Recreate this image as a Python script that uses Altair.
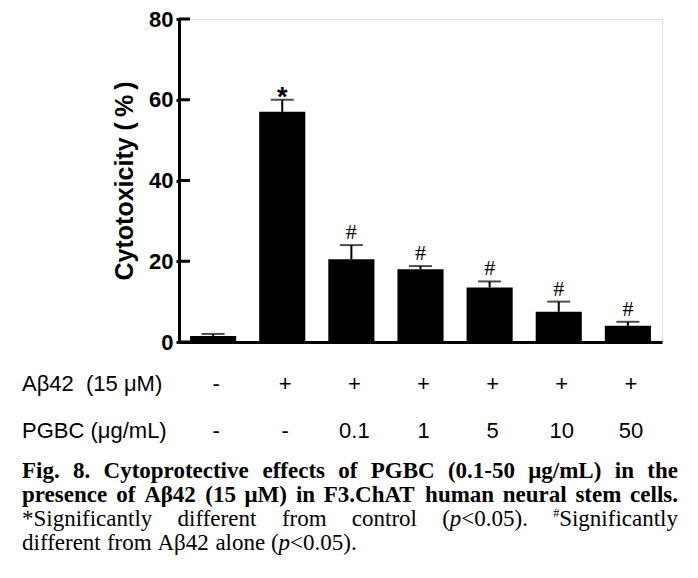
import altair as alt
import pandas as pd

# ---- data ----
abeta = ["-", "+", "+", "+", "+", "+", "+"]
pgbc = ["-", "-", "0.1", "1", "5", "10", "50"]
values = [1.5, 57.0, 20.5, 18.0, 13.5, 7.5, 4.0]
upper = [2.0, 60.0, 24.0, 18.8, 15.0, 10.0, 5.0]
sig = ["", "*", "#", "#", "#", "#", "#"]
y_ticks = [0, 20, 40, 60, 80]
row_titles = ["A\u03b242\u00a0\u00a0(15 \u03bcM)", "PGBC (\u03bcg/mL)"]

groups = [f"{a} {p}" for a, p in zip(abeta, pgbc)]
df = pd.DataFrame({"group": groups, "value": values, "upper": upper,
                   "sig": sig, "abeta": abeta, "pgbc": pgbc})

# ---- layout ----
W, H = 483, 323
PAD_L, PAD_T = 171, 11
SANS = "Liberation Sans, Arial, sans-serif"
SERIF = "Liberation Serif, Times New Roman, serif"

xscale = alt.Scale(domain=groups, paddingInner=0.333, paddingOuter=0.16)
yscale = alt.Scale(domain=[0, 80], nice=False)
yaxis = alt.Axis(values=y_ticks, title="Cytotoxicity (\u2009%\u2009)", grid=False,
                 domainWidth=3, domainColor="black", tickWidth=3, tickSize=3,
                 tickColor="black", labelPadding=3, labelFont=SANS,
                 labelFontSize=22, labelFontWeight="bold", labelColor="black",
                 titleFont=SANS, titleFontSize=25, titleFontWeight="bold",
                 titleColor="black", titlePadding=11)
xaxis = alt.Axis(labels=False, ticks=False, title=None, domainWidth=3,
                 domainColor="black", grid=False)

X = alt.X("group:N", scale=xscale, axis=xaxis, sort=None)

base = alt.Chart(df)
bars = base.mark_bar(color="black").encode(
    x=X, y=alt.Y("value:Q", scale=yscale, axis=yaxis))
err = base.mark_rule(color="black", strokeWidth=2).encode(
    x=X, y=alt.Y("value:Q", scale=yscale, axis=yaxis), y2="upper:Q")
caps = base.mark_tick(color="black", thickness=2, size=23).encode(
    x=X, y=alt.Y("upper:Q", scale=yscale, axis=yaxis))
star = base.transform_filter(alt.datum.sig == "*").mark_text(
    font=SANS, fontSize=27, fontWeight="bold", baseline="alphabetic", dy=6,
    color="black").encode(x=X, y=alt.Y("upper:Q", scale=yscale, axis=yaxis),
                          text="sig:N")
hashm = base.transform_filter(alt.datum.sig == "#").mark_text(
    font=SERIF, fontSize=22, baseline="alphabetic", dy=-6,
    color="black").encode(x=X, y=alt.Y("upper:Q", scale=yscale, axis=yaxis),
                          text="sig:N")

tick_df = pd.DataFrame({"t": y_ticks})
inticks = alt.Chart(tick_df).mark_rule(color="black", strokeWidth=3).encode(
    y=alt.Y("t:Q", scale=yscale, axis=yaxis), x=alt.value(0), x2=alt.value(11))

ROWFS = 22
row1 = base.mark_text(font=SANS, fontSize=ROWFS, dx=3, color="black").encode(
    x=X, y=alt.value(365), text="abeta:N")
row2 = base.mark_text(font=SANS, fontSize=ROWFS, dx=3, color="black").encode(
    x=X, y=alt.value(412), text="pgbc:N")

head_df = pd.DataFrame({"t": row_titles, "px": [-157, -157], "py": [365, 412]})
heads = alt.Chart(head_df).mark_text(font=SANS, fontSize=ROWFS, align="left",
                                     color="black").encode(
    x=alt.X("px:Q", scale=None, axis=None),
    y=alt.Y("py:Q", scale=None, axis=None), text="t:N")

# ---- caption layout (justified lines) ----
BOLDW = {' ': 250, '(': 333, ')': 333, '-': 333, '.': 250, '/': 278,
         'A': 722, 'B': 667, 'C': 722, 'F': 611, 'G': 778, 'L': 667, 'M': 944,
         'P': 611, 'T': 667, 'a': 500, 'c': 444, 'e': 444, 'f': 333, 'g': 500,
         'h': 556, 'i': 278, 'l': 278, 'm': 833, 'n': 556, 'o': 500, 'p': 556,
         'r': 444, 's': 389, 't': 333, 'u': 556, 'v': 500, 'y': 500,
         '\u03bc': 576, '\u03b2': 556}
REGW = {' ': 250, '*': 500, 'S': 556, 'i': 278, 'g': 500, 'n': 500, 'f': 333,
        'c': 444, 'a': 444, 't': 278, 'l': 278, 'y': 500, 'd': 500, 'e': 444,
        'r': 333, 'o': 500, 'm': 778, '(': 333, ')': 333, '<': 564, '.': 250,
        'A': 722, '\u03b2': 549, '#': 500, 'p': 500}
CS = 23
SUPS = 12
STYLE_SIZE = {"bold": CS, "reg": CS, "ital": CS, "sup": SUPS}


def cw(ch, style):
    table = BOLDW if style == "bold" else REGW
    if ch.isdigit():
        return 500
    return table.get(ch, 500)


def run_w(text, style):
    return sum(cw(c, style) for c in text) / 1000 * STYLE_SIZE[style]


def words(text, style):
    return [[(w, style)] for w in text.split(" ")]


pval = [("(", "reg"), ("p", "ital"), ("<0.05).", "reg")]
lines = [
    (words("Fig. 8. Cytoprotective effects of PGBC (0.1-50 \u03bcg/mL) in the", "bold"), True),
    (words("presence of A\u03b242 (15 \u03bcM) in F3.ChAT human neural stem cells.", "bold"), True),
    (words("*Significantly different from control", "reg") + [pval] +
     [[("#", "sup"), ("Significantly", "reg")]], True),
    (words("different from A\u03b242 alone", "reg") + [pval], False),
]
X0, X1 = -157, 499
baselines = [459, 483, 507, 531]
segs = []
for (wl, justify), yb in zip(lines, baselines):
    widths = [sum(run_w(t, s) for t, s in w) for w in wl]
    if justify:
        gap = (X1 - X0 - sum(widths)) / (len(wl) - 1)
    else:
        gap = run_w(" ", "reg")
    x = X0
    for w, wd in zip(wl, widths):
        xx = x
        for t, s in w:
            segs.append({"t": t, "px": xx, "py": yb - (9 if s == "sup" else 0),
                         "s": s})
            xx += run_w(t, s)
        x += wd + gap
seg_df = pd.DataFrame(segs)


def cap_layer(style, weight, fstyle, size):
    return alt.Chart(seg_df).transform_filter(alt.datum.s == style).mark_text(
        font=SERIF, fontSize=size, fontWeight=weight, fontStyle=fstyle,
        align="left", baseline="alphabetic", color="black").encode(
        x=alt.X("px:Q", scale=None, axis=None),
        y=alt.Y("py:Q", scale=None, axis=None), text="t:N")


caption = [cap_layer("bold", "bold", "normal", CS),
           cap_layer("reg", "normal", "normal", CS),
           cap_layer("ital", "normal", "italic", CS),
           cap_layer("sup", "normal", "normal", SUPS)]

chart = alt.layer(bars, err, caps, star, hashm, inticks, row1, row2, heads,
                  *caption).properties(
    width=W, height=H,
    autosize=alt.AutoSizeParams(type="none"),
    padding={"left": PAD_L, "top": PAD_T, "right": 28, "bottom": 228},
).configure_view(stroke=None).configure(background="white")

chart.save("out.html", embed_options={"renderer": "svg", "actions": False})
